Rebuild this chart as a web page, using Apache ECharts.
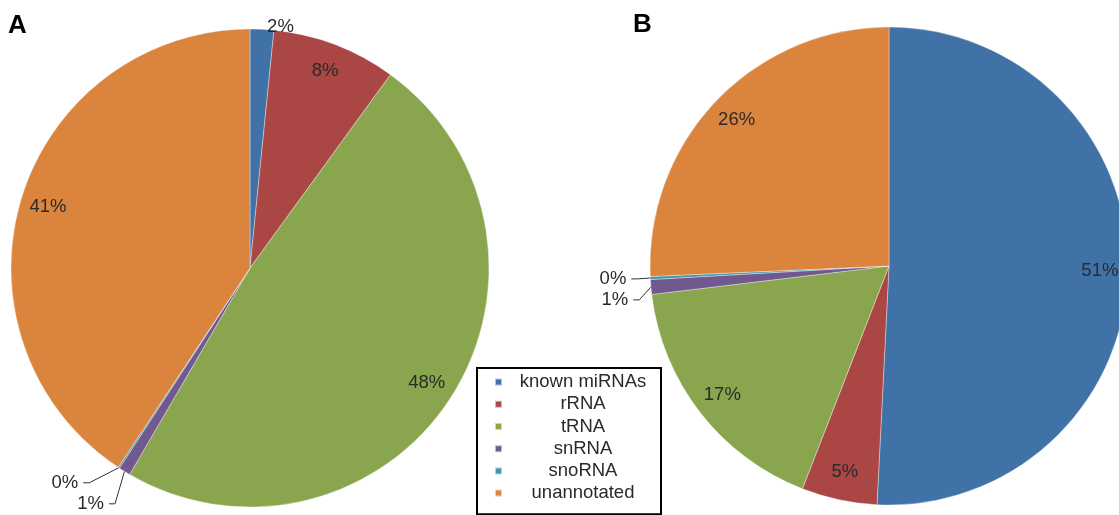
<!DOCTYPE html>
<html>
<head>
<meta charset="utf-8">
<style>
html,body{margin:0;padding:0;background:#fff;}
#chart{width:1119px;height:515px;}
</style>
<script src="https://cdn.jsdelivr.net/npm/echarts@6/dist/echarts.min.js"></script>
</head>
<body>
<div id="chart"></div>
<script>
const categories = ['known miRNAs', 'rRNA', 'tRNA', 'snRNA', 'snoRNA', 'unannotated'];
const valuesA = [1.6, 8.4, 48.4, 0.8, 0.1, 40.7];
const valuesB = [50.8, 5.1, 17.2, 1.0, 0.2, 25.7];
const colors = ['#4072A8', '#AA4643', '#89A54E', '#71588F', '#3D96AE', '#DB843D'];
const panelLabels = ['A', 'B'];

const FONT = '"Liberation Sans", Arial, sans-serif';
const R = 239;
const SMALL = 3;
const FS = 18.5;

function fmt(p) { return Math.round(p.percent) + '%'; }

function mainPie(values, center) {
  return {
    type: 'pie',
    center: center,
    radius: [0, R],
    startAngle: 90,
    clockwise: true,
    avoidLabelOverlap: true,
    animation: false,
    itemStyle: { borderColor: 'rgba(255,255,255,0.6)', borderWidth: 0.6 },
    label: {
      show: true, position: 'outside', formatter: fmt,
      fontFamily: FONT, fontSize: FS, color: '#2a2a2a'
    },
    labelLine: { show: true, length: 18, length2: 6, lineStyle: { color: '#333', width: 1 } },
    emphasis: { disabled: true },
    data: categories.map((name, i) => {
      const small = values[i] < SMALL;
      const item = { name: name, value: values[i], itemStyle: { color: colors[i] } };
      if (!small) { item.label = { show: false }; item.labelLine = { show: false }; }
      else if (values[i] > 1.2) { item.labelLine = { show: false, length: 2, length2: 0 }; }
      return item;
    })
  };
}

function labelRing(values, center) {
  return {
    type: 'pie',
    center: center,
    radius: [R * 0.74, R],
    startAngle: 90,
    clockwise: true,
    silent: true,
    animation: false,
    itemStyle: { color: 'rgba(0,0,0,0)' },
    label: {
      show: true, position: 'inside', formatter: fmt,
      fontFamily: FONT, fontSize: FS, color: '#2a2a2a'
    },
    labelLine: { show: false },
    emphasis: { disabled: true },
    data: categories.map((name, i) => ({
      name: name, value: values[i],
      label: { show: values[i] >= SMALL }
    }))
  };
}

const chart = echarts.init(document.getElementById('chart'), null, { renderer: 'canvas' });
chart.setOption({
  backgroundColor: '#fff',
  animation: false,
  color: colors,
  title: [
    { text: panelLabels[0], left: 3, top: 8, textStyle: { fontFamily: FONT, fontSize: 26, fontWeight: 'bold', color: '#000' } },
    { text: panelLabels[1], left: 628, top: 7, textStyle: { fontFamily: FONT, fontSize: 26, fontWeight: 'bold', color: '#000' } }
  ],
  legend: {
    data: categories,
    orient: 'vertical',
    left: 477,
    top: 368,
    backgroundColor: '#fff',
    borderColor: '#000',
    borderWidth: 2,
    borderRadius: 0,
    padding: [3, 2, 10, 17],
    itemGap: 0,
    itemWidth: 7,
    itemHeight: 7,
    icon: 'rect',
    selectedMode: false,
    formatter: function (name) { return '{a|' + name + '}'; },
    textStyle: {
      fontFamily: FONT, fontSize: FS, color: '#2a2a2a',
      rich: {
        a: { width: 152, height: 22.2, lineHeight: 22.2, align: 'center', verticalAlign: 'middle', fontFamily: FONT, fontSize: FS, color: '#2a2a2a' }
      }
    }
  },
  series: [
    mainPie(valuesA, [250, 268]),
    labelRing(valuesA, [250, 268]),
    mainPie(valuesB, [889, 266]),
    labelRing(valuesB, [889, 266])
  ]
});
</script>
</body>
</html>
